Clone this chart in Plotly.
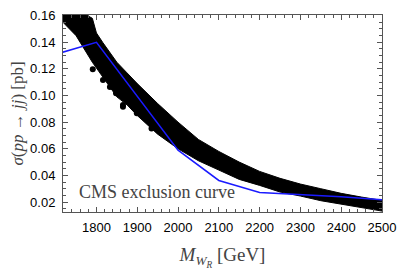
import plotly.graph_objects as go

# ---- data ----
band_mass = [1718, 1750, 1790, 1800, 1816, 1850, 1875, 1900, 1950, 2000, 2050,
             2100, 2150, 2200, 2250, 2300, 2350, 2400, 2450, 2500]
band_upper = [0.165, 0.165, 0.158, 0.147, 0.1396, 0.125, 0.117, 0.109, 0.094, 0.080,
              0.067, 0.058, 0.050, 0.043, 0.0378, 0.0335, 0.030, 0.0265, 0.0237, 0.0212]
band_lower = [0.155, 0.145, 0.125, 0.121, 0.114, 0.099, 0.093, 0.085, 0.071, 0.060,
              0.051, 0.044, 0.037, 0.0325, 0.0275, 0.0245, 0.021, 0.0183, 0.0158, 0.0132]

outlier_mass = [1791, 1816, 1833, 1841, 1848, 1865, 1865, 1899, 1935]
outlier_xsec = [0.1198, 0.1117, 0.1064, 0.1066, 0.1017, 0.0928, 0.0915, 0.0866, 0.0752]

cms_mass = [1700, 1800, 2000, 2100, 2200, 2300, 2400, 2500]
cms_xsec = [0.1310, 0.1400, 0.0590, 0.0362, 0.0272, 0.0256, 0.0239, 0.0217]

x_ticks = [1800, 1900, 2000, 2100, 2200, 2300, 2400, 2500]
y_ticks = [0.02, 0.04, 0.06, 0.08, 0.10, 0.12, 0.14, 0.16]

fig = go.Figure()

# dense scatter band (drawn as filled region between the read edges)
fig.add_trace(go.Scatter(
    x=band_mass + band_mass[::-1],
    y=band_upper + band_lower[::-1],
    fill="toself", fillcolor="black",
    line=dict(color="black", width=1),
    mode="lines", hoverinfo="skip", showlegend=False,
))
fig.add_trace(go.Scatter(
    x=outlier_mass, y=outlier_xsec, mode="markers",
    marker=dict(color="black", size=6), showlegend=False, cliponaxis=True,
))
fig.add_trace(go.Scatter(
    x=cms_mass, y=cms_xsec, mode="lines",
    line=dict(color="#1a1aff", width=1.5), showlegend=False,
))

axis_common = dict(
    showgrid=False, zeroline=False, showline=True, linecolor="#555", linewidth=1,
    mirror="ticks", ticks="inside", ticklen=5, tickcolor="#555", tickwidth=1,
    tickfont=dict(family="Liberation Sans, Arial", size=13, color="black"),
    automargin=False,
)

fig.update_xaxes(
    range=[1718, 2500], tickvals=x_ticks, ticktext=[str(v) for v in x_ticks],
    minor=dict(dtick=20, tick0=1800, ticks="inside", ticklen=3, tickcolor="#555", showgrid=False),
    title=dict(text="<i>M</i><sub><i>W</i><sub><i>R</i></sub></sub> [GeV]",
               font=dict(family="Liberation Serif, Times New Roman", size=19, color="#444"),
               standoff=14),
    ticklabelstandoff=3,
    **axis_common,
)
fig.update_yaxes(
    range=[0.0125, 0.1605], tickvals=y_ticks, ticktext=[f"{v:.2f}" for v in y_ticks],
    minor=dict(dtick=0.005, tick0=0, ticks="inside", ticklen=3, tickcolor="#555", showgrid=False),
    title=dict(text="<i>σ</i>(<i>pp</i> → <i>jj</i>) [pb]",
               font=dict(family="Liberation Serif, Times New Roman", size=17, color="#444"),
               standoff=2),
    ticklabelstandoff=4,
    **axis_common,
)

fig.add_annotation(
    x=1752, y=0.0279, xref="x", yref="y", xanchor="left", yanchor="middle",
    text="CMS exclusion curve", showarrow=False,
    font=dict(family="Liberation Serif, Times New Roman", size=18, color="#444"),
)

fig.update_layout(
    width=407, height=270,
    margin=dict(l=63, r=25, t=15, b=58),
    paper_bgcolor="white", plot_bgcolor="white",
)

fig.write_html(
    "out.html",
    config={"displayModeBar": False},
    post_script="document.body.style.margin='0px';document.body.style.overflow='hidden';",
)
